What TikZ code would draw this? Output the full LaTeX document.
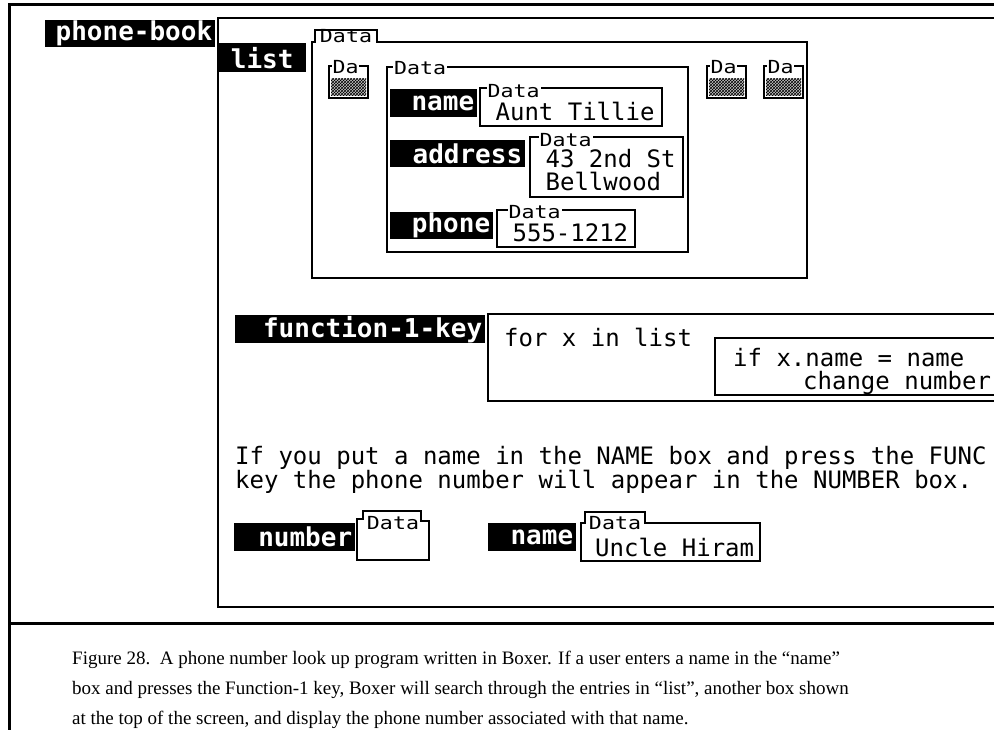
\documentclass[tikz,border=0pt]{standalone}
\usepackage{fontspec}
\setmainfont{Liberation Serif}
\newfontfamily\boxerfont{DejaVu Sans Mono}
\newfontfamily\boxertype[FakeStretch=1.2]{DejaVu Sans Mono}
\newcommand{\bxtag}{\boxerfont\bfseries\fontsize{26}{26}\selectfont}
\newcommand{\bxval}{\boxerfont\fontsize{24}{24}\selectfont}
\newcommand{\bxtype}{\boxertype\fontsize{18}{18}\selectfont}
\usetikzlibrary{positioning,calc,patterns}
\tikzstyle{pageline} = [line width=3pt]
\tikzstyle{scrline} = [line width=2pt]
\tikzstyle{boxtag} = [rectangle, fill=black, text=white, font=\bxtag, inner xsep=3pt, inner ysep=0pt, minimum height=27pt, anchor=north west, align=right]
\tikzstyle{boxval} = [anchor=base west, inner sep=0pt, font=\bxval]
\tikzstyle{valbox} = [rectangle, draw, scrline, inner sep=0pt, outer sep=0pt, anchor=north west]
\tikzstyle{typetag} = [inner sep=1pt, font=\bxtype]
\tikzstyle{linetag} = [typetag, fill=white, anchor=west]
\tikzstyle{captext} = [anchor=base west, inner sep=0pt, font=\fontsize{19}{19}\selectfont]

\begin{document}
\begin{tikzpicture}[x=1pt,y=-1pt]
	\useasboundingbox (0,0) rectangle (994,730);
	\clip (0,0) rectangle (994,730);
	% page frame
	\draw [pageline](9,732) -- (9,5) -- (996,5);
	\draw [pageline](9,623) -- (996,623);
	% boxer screen
	\draw [scrline](996,18) -- (218,18) -- (218,607) -- (996,607);
	\node (phonebook) [boxtag, text width=164pt] at (45,20) {phone-book};
	\node (list) [boxtag, text width=82pt, align=center, minimum height=29pt] at (218,43) {list};
	\draw [scrline](312,278) -- (312,42) -- (315,42) -- (315,30) -- (377,30) -- (377,42) -- (807,42) -- (807,278) -- cycle;
	\node (listType) [typetag] at (346,36) {Data};
	\foreach \xa [count=\i] in {329,707,764}{
		\fill [gray!45](\xa+2,79) rectangle (\xa+37,96);
		\fill [pattern=crosshatch](\xa+2,79) rectangle (\xa+37,96);
		\draw [scrline](\xa,66) rectangle (\xa+39,98);
		\node (shrunk\i) [linetag, inner sep=0.5pt] at (\xa+3,67) {Da};
	}
	% one entry of the list
	\draw [scrline](387,67) rectangle (688,252);
	\node (entryType) [linetag] at (393,68) {Data};
	\node (nameTag) [boxtag, text width=81pt, minimum height=28pt] at (390,89) {name};
	\node (nameVal) [valbox, right=3pt of nameTag.north east, anchor=north west, yshift=1pt, minimum width=182pt, minimum height=38pt] {};
	\node (nameType) [linetag] at ($(nameVal.north west)+(6,3)$) {Data};
	\node (aunt) [boxval] at ($(nameVal.south west)+(15,-5)$) {Aunt Tillie};
	\node (addrTag) [boxtag, text width=129pt] at (390,140) {address};
	\node (addrVal) [valbox, right=5pt of addrTag.north east, anchor=north west, yshift=3pt, minimum width=153pt, minimum height=60pt] {};
	\node (addrType) [linetag] at ($(addrVal.north west)+(8,3)$) {Data};
	\node (street) [boxval] at ($(addrVal.south west)+(15,-29)$) {43 2nd St};
	\node (town) [boxval] at ($(addrVal.south west)+(15,-6)$) {Bellwood};
	\node (phoneTag) [boxtag, text width=97pt] at (390,212) {phone};
	\node (phoneVal) [valbox, right=4pt of phoneTag.north east, anchor=north west, yshift=2pt, minimum width=138pt, minimum height=37pt] {};
	\node (phoneType) [linetag] at ($(phoneVal.north west)+(10,2)$) {Data};
	\node (number) [boxval] at ($(phoneVal.south west)+(15,-5)$) {555-1212};
	% the key
	\node (fnTag) [boxtag, text width=244pt, minimum height=28pt] at (235,315) {function-1-key};
	\draw [scrline](996,314) -- (488,314) -- (488,401) -- (996,401);
	\node (forx) [boxval] at (504,346) {for x in list};
	\draw [scrline](996,338) -- (715,338) -- (715,395) -- (996,395);
	\node (ifx) [boxval] at (733,366) {if x.name = name};
	\node (change) [boxval] at (803,389) {change number};
	\node (hintA) [boxval] at (235,464) {If you put a name in the NAME box and press the FUNC};
	\node (hintB) [boxval] at (235,488) {key the phone number will appear in the NUMBER box.};
	% number and name
	\node (numberTag) [boxtag, text width=115pt, minimum height=28pt] at (234,523) {number};
	\draw [scrline](357,560) -- (357,519) -- (363,519) -- (363,511) -- (421,511) -- (421,521) -- (429,521) -- (429,560) -- cycle;
	\node (numberType) [typetag] at (393,523) {Data};
	\node (nameTagB) [boxtag, text width=82pt, minimum height=28pt] at (488,523) {name};
	\draw [scrline](581,561) -- (581,523) -- (585,523) -- (585,512) -- (645,512) -- (645,523) -- (760,523) -- (760,561) -- cycle;
	\node (hiramType) [typetag] at (615,523) {Data};
	\node (hiram) [boxval] at (595,556) {Uncle Hiram};
	% caption
	\node (capA) [captext] at (72,664) {Figure 28.\ \ A phone number look up program written in Boxer. If a user enters a name in the “name”};
	\node (capB) [captext] at (72,694) {box and presses the Function-1 key, Boxer will search through the entries in “list”, another box shown};
	\node (capC) [captext] at (72,724) {at the top of the screen, and display the phone number associated with that name.};
\end{tikzpicture}
\end{document}
